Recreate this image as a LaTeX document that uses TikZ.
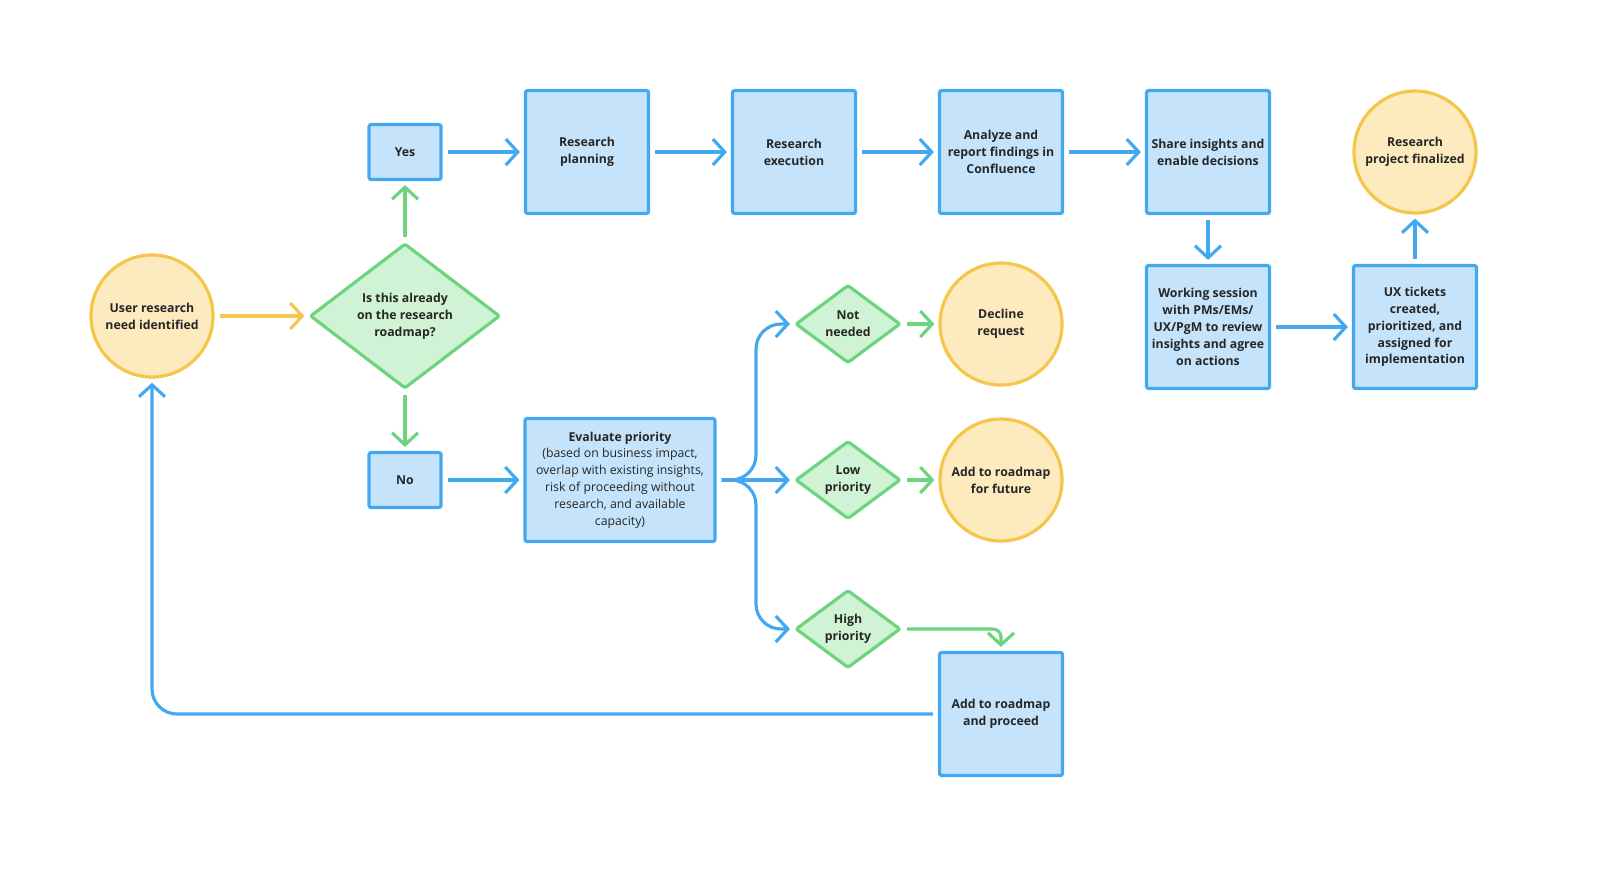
\documentclass[tikz,border=0pt]{standalone}
\usepackage{fontspec}
\setmainfont{Open Sans}
\usetikzlibrary{shapes.geometric,arrows.meta,positioning}
\definecolor{bl}{HTML}{42A8F0}
\definecolor{blf}{HTML}{C5E4FC}
\definecolor{gr}{HTML}{6CD47C}
\definecolor{grf}{HTML}{CFF3D4}
\definecolor{ye}{HTML}{F6C64A}
\definecolor{yef}{HTML}{FDEBBF}
\tikzset{
  txt/.style={align=center,font=\fontsize{3.5}{4.8}\selectfont\bfseries,text=black!85},
  box/.style={txt,draw=bl,fill=blf,line width=0.9pt,rounded corners=0.6pt,minimum width=1.23cm,minimum height=1.23cm,inner sep=0pt},
  small/.style={box,minimum width=0.72cm,minimum height=0.55cm},
  term/.style={txt,circle,draw=ye,fill=yef,line width=0.9pt,minimum size=1.22cm,inner sep=0pt},
  dec/.style={txt,diamond,draw=gr,fill=grf,line width=0.9pt,minimum width=1.05cm,minimum height=0.78cm,inner sep=0pt,rounded corners=0.6pt},
  arr/.style={draw=bl,line width=0.9pt,-{Straight Barb[length=1.2mm,width=2.6mm]},shorten <=0.05cm,shorten >=0.04cm,rounded corners=0.25cm},
  garr/.style={arr,draw=gr},
  yarr/.style={arr,draw=ye}
}
\begin{document}
\begin{tikzpicture}
\useasboundingbox (0,0) rectangle (16,-8.85);

\node[term] (user) at (1.52,-3.16) {User research\\need identified};
\node[dec,minimum width=1.9cm,minimum height=1.45cm] (road) at (4.05,-3.16) {Is this already\\on the research\\roadmap?};
\node[small] (yes) at (4.05,-1.52) {Yes};
\node[small] (no) at (4.05,-4.80) {No};
\node[box] (plan) at (5.87,-1.52) {Research\\planning};
\node[box] (exec) at (7.94,-1.52) {Research\\execution};
\node[box] (anal) at (10.01,-1.52) {Analyze and\\report findings in\\Confluence};
\node[box] (share) at (12.08,-1.52) {Share insights and\\enable decisions};
\node[box] (work) at (12.08,-3.27) {Working session\\with PMs/EMs/\\UX/PgM to review\\insights and agree\\on actions};
\node[box] (ux) at (14.15,-3.27) {UX tickets\\created,\\prioritized, and\\assigned for\\implementation};
\node[term] (final) at (14.15,-1.52) {Research\\project finalized};
\node[box,minimum width=1.9cm,font=\fontsize{3.5}{4.8}\selectfont] (eval) at (6.20,-4.80) {\textbf{Evaluate priority}\\(based on business impact,\\overlap with existing insights,\\risk of proceeding without\\research, and available\\capacity)};
\node[dec] (notn) at (8.48,-3.24) {Not\\needed};
\node[dec] (low) at (8.48,-4.80) {Low\\priority};
\node[dec] (high) at (8.48,-6.29) {High\\priority};
\node[term] (decl) at (10.01,-3.24) {Decline\\request};
\node[term] (fut) at (10.01,-4.80) {Add to roadmap\\for future};
\node[box] (proc) at (10.01,-7.14) {Add to roadmap\\and proceed};

\coordinate (fork) at (7.56,-4.80);
\coordinate (bl) at (1.52,-7.14);
\coordinate (hin) at (10.01,-6.47);

\draw[yarr] (user) -- (road);
\draw[garr] (road) -- (yes);
\draw[garr] (road) -- (no);
\draw[arr] (yes) -- (plan);
\draw[arr] (plan) -- (exec);
\draw[arr] (exec) -- (anal);
\draw[arr] (anal) -- (share);
\draw[arr] (share) -- (work);
\draw[arr] (work) -- (ux);
\draw[arr] (ux) -- (final);
\draw[arr] (no) -- (eval);
\draw[arr] (eval.east) -- (fork) |- (notn);
\draw[arr] (eval.east) -- (low);
\draw[arr] (eval.east) -- (fork) |- (high);
\draw[garr] (notn) -- (decl);
\draw[garr] (low) -- (fut);
\draw[garr,rounded corners=0.08cm,shorten >=0pt] (high) -| (hin);
\draw[arr] (proc) -- (bl) -- (user);
\end{tikzpicture}
\end{document}
